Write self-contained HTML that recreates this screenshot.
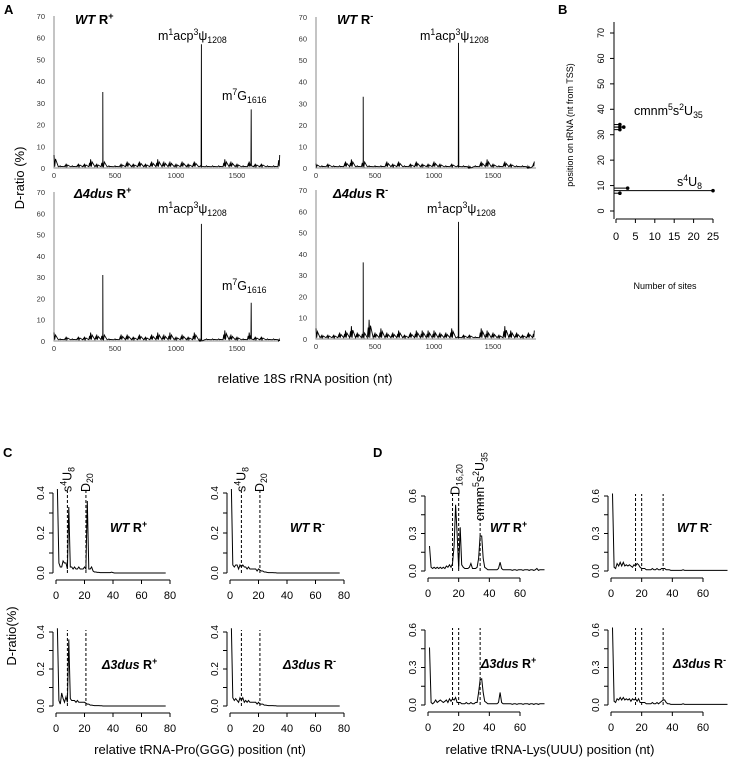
<!DOCTYPE html>
<html><head><meta charset="utf-8"><style>
html,body{margin:0;padding:0;background:#fff}
svg{display:block;font-family:"Liberation Sans",Arial,sans-serif}
</style></head><body>
<svg id="fig" width="736" height="762" viewBox="0 0 736 762" xmlns="http://www.w3.org/2000/svg">
<g id="static" font-family="Liberation Sans, sans-serif">
 <text x="4" y="14" font-size="13" font-weight="bold">A</text>
 <text x="558" y="14" font-size="13" font-weight="bold">B</text>
 <text x="3" y="457" font-size="13" font-weight="bold">C</text>
 <text x="373" y="457" font-size="13" font-weight="bold">D</text>
 <text transform="translate(24,178) rotate(-90)" text-anchor="middle" font-size="13">D-ratio (%)</text>
 <text x="305" y="383" text-anchor="middle" font-size="13">relative 18S rRNA position (nt)</text>
 <text transform="translate(573,125) rotate(-90)" text-anchor="middle" font-size="9">position on tRNA (nt from TSS)</text>
 <text x="665" y="289" text-anchor="middle" font-size="9">Number of sites</text>
 <text transform="translate(16,636) rotate(-90)" text-anchor="middle" font-size="13">D-ratio(%)</text>
 <text x="200" y="754" text-anchor="middle" font-size="13">relative tRNA-Pro(GGG) position (nt)</text>
 <text x="550" y="754" text-anchor="middle" font-size="13">relative tRNA-Lys(UUU) position (nt)</text>
</g>
</svg>
<script>
// ===== Panel A data (18S rRNA, binned every 50 nt, 0..1850) =====
const aBinStep = 50;
const aWTplus   = [6,1,2,1,2,2,4,2,4,1,1,2,3,2,3,2,3,4,3,3,2,3,2,3,1,1,1,1,4,3,2,1,3,2,2,1,1,6];
const aWTminus  = [2,1,2,1,1,3,4,1,4,1,1,1,3,2,3,1,2,3,2,2,3,2,1,2,1,1,0,1,3,4,2,1,3,2,1,1,0,3];
const aDusPlus  = [4,1,2,1,2,2,4,3,4,1,1,3,3,2,3,2,3,4,3,4,2,3,2,4,0,1,1,1,5,3,2,1,4,2,2,1,1,0];
const aDusMinus = [5,2,2,2,3,4,6,3,4,9,3,5,3,3,4,2,3,4,4,4,4,3,3,5,1,2,2,1,5,4,3,2,6,4,3,2,3,4];
const aPeaksWTplus   = [[400,35],[1208,57],[1616,27]];
const aPeaksWTminus  = [[400,33],[1208,58]];
const aPeaksDusPlus  = [[400,31],[1208,55],[1616,18]];
const aPeaksDusMinus = [[400,36],[1208,55]];
const aXTicks = [0,500,1000,1500];
const aYTicks = [0,10,20,30,40,50,60,70];

// ===== Panel B data =====
const bSites = [25,3,1,1,2,1,1];
const bPositions = [8,9,7,33,33,34,32];
const bXTicks = [0,5,10,15,20,25];
const bYTicks = [0,10,20,30,40,50,60,70];

// ===== Panel C data (tRNA-Pro(GGG), positions 1..) =====
const cWTplus   = [0.42,0.05,0.03,0.03,0.06,0.05,0.05,0.02,0.33,0.03,0.03,0.02,0.03,0.02,0.02,0.03,0.02,0.02,0.02,0.03,0.02,0.36,0.02,0.02,0.03,0.01,0.005,0.005,0.003,0.003,0.002,0.002,0.002,0.002,0.002,0.002,0.002,0.002,0.004,0.002,0,0,0,0,0,0,0,0,0,0,0,0,0,0,0,0,0,0,0,0,0,0,0,0,0,0,0,0,0,0,0,0,0,0,0,0,0];
const cWTminus  = [0.42,0.04,0.03,0.04,0.04,0.02,0.04,0.03,0.04,0.03,0.03,0.02,0.03,0.02,0.02,0.02,0.02,0.02,0.01,0.02,0.015,0.01,0.01,0.005,0.005,0.003,0.002,0.002,0.002,0.002,0.001,0.001,0,0,0,0,0,0,0,0,0,0,0,0,0,0,0,0,0,0,0,0,0,0,0,0,0,0,0,0,0,0,0,0,0,0,0,0,0,0,0,0,0,0,0,0,0];
const cDusPlus  = [0.42,0.03,0.01,0.07,0.04,0.02,0.05,0.02,0.36,0.04,0.03,0.03,0.03,0.02,0.03,0.02,0.02,0.02,0.02,0.02,0.015,0.01,0.01,0.005,0.005,0.003,0.002,0.002,0.002,0.002,0.001,0.001,0,0,0,0,0,0,0,0,0,0,0,0,0,0,0,0,0,0,0,0,0,0,0,0,0,0,0,0,0,0,0,0,0,0,0,0,0,0,0,0,0,0,0,0,0];
const cDusMinus = [0.42,0.045,0.03,0.04,0.03,0.02,0.045,0.03,0.045,0.02,0.03,0.02,0.03,0.02,0.02,0.02,0.02,0.02,0.01,0.02,0.01,0.01,0.01,0.005,0.005,0.003,0.002,0.002,0.002,0.002,0.001,0.001,0,0,0,0,0,0,0,0,0,0,0,0,0,0,0,0,0,0,0,0,0,0,0,0,0,0,0,0,0,0,0,0,0,0,0,0,0,0,0,0,0,0,0,0,0];
const cMarks = [8,21];
const cXTicks = [0,20,40,60,80];
const cYTicks = [0,0.1,0.2,0.3,0.4];
const cYLabels = ["0.0","0.2","0.4"];

// ===== Panel D data (tRNA-Lys(UUU), positions 1..) =====
const dWTplus   = [0.2,0.03,0.02,0.03,0.02,0.03,0.02,0.03,0.02,0.03,0.02,0.04,0.03,0.05,0.03,0.06,0.2,0.53,0.3,0.02,0.35,0.05,0.03,0.02,0.02,0.02,0.03,0.06,0.02,0.02,0.02,0.03,0.1,0.28,0.28,0.1,0.03,0.02,0.01,0.01,0.01,0.01,0.01,0.01,0.01,0.02,0.07,0.02,0.01,0.01,0.01,0.01,0.01,0.01,0.005,0.01,0.01,0.005,0.01,0.01,0.01,0.005,0.01,0.01,0.01,0.005,0.01,0.01,0.005,0.01,0.02,0.005,0.01,0.01,0.01,0.01];
const dWTminus  = [0.62,0.03,0.02,0.06,0.04,0.07,0.04,0.07,0.04,0.05,0.04,0.05,0.04,0.03,0.05,0.04,0.06,0.05,0.03,0.02,0.02,0.02,0.01,0.01,0.01,0.01,0.02,0.01,0.01,0.02,0.01,0.01,0.02,0.02,0.02,0.01,0.01,0.01,0.005,0.005,0.005,0.005,0.005,0.005,0.005,0.005,0.01,0.005,0.005,0.005,0.005,0.005,0.005,0.005,0.005,0.005,0.005,0.005,0.005,0.005,0.005,0.005,0.005,0.005,0.005,0.005,0.005,0.005,0.005,0.005,0.005,0.005,0.005,0.005,0.005,0.005];
const dDusPlus  = [0.46,0.02,0.01,0.02,0.04,0.02,0.03,0.04,0.03,0.02,0.03,0.04,0.02,0.05,0.03,0.05,0.04,0.06,0.02,0.02,0.02,0.01,0.01,0.01,0.02,0.01,0.01,0.02,0.01,0.01,0.02,0.02,0.1,0.2,0.21,0.1,0.03,0.02,0.01,0.01,0.01,0.01,0.01,0.01,0.01,0.02,0.1,0.02,0.01,0.01,0.01,0.01,0.01,0.01,0.005,0.01,0.01,0.005,0.01,0.01,0.01,0.005,0.01,0.01,0.01,0.005,0.01,0.01,0.005,0.01,0.01,0.005,0.01,0.01,0.01,0.01];
const dDusMinus = [0.62,0.03,0.02,0.05,0.04,0.06,0.04,0.06,0.04,0.05,0.04,0.05,0.03,0.05,0.04,0.05,0.03,0.05,0.02,0.02,0.02,0.02,0.01,0.01,0.01,0.01,0.02,0.01,0.01,0.02,0.01,0.02,0.03,0.04,0.04,0.02,0.01,0.01,0.005,0.005,0.005,0.005,0.005,0.005,0.005,0.005,0.01,0.005,0.005,0.005,0.005,0.005,0.005,0.005,0.005,0.005,0.005,0.005,0.005,0.005,0.005,0.005,0.005,0.005,0.005,0.005,0.005,0.005,0.005,0.005,0.005,0.005,0.005,0.005,0.005,0.005];
const dMarks = [16,20,34];
const dXTicks = [0,20,40,60];
const dYTicks = [0,0.15,0.3,0.45,0.6];
const dYLabels = ["0.0","0.3","0.6"];

const NS = "http://www.w3.org/2000/svg";
const svg = document.getElementById('fig');
function mk(tag, attrs, parent){
  const e = document.createElementNS(NS, tag);
  for (const k in attrs) e.setAttribute(k, attrs[k]);
  (parent||svg).appendChild(e);
  return e;
}
function lin(d0,d1,r0,r1){ return v => r0 + (v-d0)/(d1-d0)*(r1-r0); }

// ---------- Panel A ----------
function panelA(name, bins, peaks, px0, px1500, pxEnd, py0, py70){
  const g = mk('g', {});
  
  
  const x = lin(0,1500,px0,px1500), y = lin(0,70,py0,py70);
  const ax = mk('path', {d:`M${px0} ${py70}V${py0}H${pxEnd}`, stroke:'#888', fill:'none', 'stroke-width':1}, g);
  
  
  aYTicks.forEach(t=>{
    const tl = mk('text', {x:px0-9, y:y(t)+3, 'font-size':7.5, 'text-anchor':'end', fill:'#333'}, g);
    
    
    tl.textContent = t;
  });
  aXTicks.forEach(t=>{
    const tl = mk('text', {x:x(t), y:py0+10, 'font-size':7.5, 'text-anchor':'middle', fill:'#333'}, g);
    
    
    tl.textContent = t;
  });
  // each bin drawn as a narrow spike cluster around the bin position
  const pts = [];
  bins.forEach((v,i)=>{
    const p = i*aBinStep;
    pts.push([p-15,0.6]); pts.push([p-8,v*0.6]); pts.push([p-4,0.8]); pts.push([p,v]); pts.push([p+6,0.6]); pts.push([p+12,v*0.7]);
  });
  peaks.forEach(p=>{ pts.push([p[0]-2,1]); pts.push([p[0],p[1]]); pts.push([p[0]+2,1]); });
  pts.sort((a,b)=>a[0]-b[0]);
  let d = '';
  pts.filter(p=>p[0]>=0 && p[0]<=(bins.length-1)*aBinStep).forEach((p,i)=>{ d += (i?'L':'M') + x(p[0]).toFixed(1) + ' ' + y(p[1]).toFixed(1); });
  const ln = mk('path', {d, stroke:'#000', fill:'none', 'stroke-width':0.9}, g);
  
  
  return g;
}
panelA('a-wt-rplus', aWTplus, aPeaksWTplus, 54, 237, 279, 168, 16);
panelA('a-wt-rminus', aWTminus, aPeaksWTminus, 316, 493, 536, 168, 17);
panelA('a-4dus-rplus', aDusPlus, aPeaksDusPlus, 54, 237, 279, 341, 192);
panelA('a-4dus-rminus', aDusMinus, aPeaksDusMinus, 316, 493, 536, 339, 190);

function rich(parent, x, y, size, parts, anchor, rot){
  const t = mk('text', {x, y, 'font-size':size, 'text-anchor':anchor||'start'}, parent);
  if (rot) t.setAttribute('transform', `rotate(-90 ${x} ${y})`);
  let off = 0;
  parts.forEach(p=>{
    const s = mk('tspan', {}, t);
    if (p.b) s.setAttribute('font-weight','bold');
    if (p.i) s.setAttribute('font-style','italic');
    let target = 0;
    if (p.sup){ target = -size*0.4; s.setAttribute('font-size', size*0.7); }
    if (p.sub){ target = size*0.25; s.setAttribute('font-size', size*0.7); }
    if (target !== off){ s.setAttribute('dy', (target-off).toFixed(2)); off = target; }
    s.textContent = p.t;
  });
  return t;
}
const labs = mk('g', {});


const acp = [{t:'m'},{t:'1',sup:1},{t:'acp'},{t:'3',sup:1},{t:'ψ'},{t:'1208',sub:1}];
const m7g = [{t:'m'},{t:'7',sup:1},{t:'G'},{t:'1616',sub:1}];
rich(labs, 75, 24, 13, [{t:'WT',b:1,i:1},{t:' R',b:1},{t:'+',b:1,sup:1}]);
rich(labs, 337, 24, 13, [{t:'WT',b:1,i:1},{t:' R',b:1},{t:'-',b:1,sup:1}]);
rich(labs, 74, 198, 13, [{t:'Δ4dus',b:1,i:1},{t:' R',b:1},{t:'+',b:1,sup:1}]);
rich(labs, 333, 198, 13, [{t:'Δ4dus',b:1,i:1},{t:' R',b:1},{t:'-',b:1,sup:1}]);
rich(labs, 158, 40, 12.5, acp);
rich(labs, 420, 40, 12.5, acp);
rich(labs, 158, 213, 12.5, acp);
rich(labs, 427, 213, 12.5, acp);
rich(labs, 222, 100, 12.5, m7g);
rich(labs, 222, 290, 12.5, m7g);

// ---------- Panel B ----------
(function(){
  const g = mk('g', {});
  
  
  const x = lin(0,25,616,713), y = lin(0,70,211,33);
  const ax = mk('path', {d:`M614 22V219`, stroke:'#000', 'stroke-width':1}, g);
  
  
  const xa = mk('path', {d:`M${x(0)} 219H${x(25)}`, stroke:'#000', 'stroke-width':1}, g);
  
  
  bXTicks.forEach(t=>{
    const tk = mk('path', {d:`M${x(t)} 219v4`, stroke:'#000'}, g);
    
    
    const tl = mk('text', {x:x(t), y:240, 'font-size':11, 'text-anchor':'middle'}, g);
    
    
    tl.textContent = t;
  });
  bYTicks.forEach(t=>{
    const tk = mk('path', {d:`M614 ${y(t)}h-4`, stroke:'#000'}, g);
    
    
    const tl = mk('text', {x:604, y:y(t), 'font-size':9, 'text-anchor':'middle', transform:`rotate(-90 604 ${y(t)})`}, g);
    
    
    tl.textContent = t;
  });
  bSites.forEach((s,i)=>{
    const l = mk('path', {d:`M614 ${y(bPositions[i])}H${x(s)}`, stroke:'#000', 'stroke-width':1}, g);
    
    
    const c = mk('circle', {cx:x(s), cy:y(bPositions[i]), r:1.8, fill:'#000'}, g);
    
    
  });
  rich(g, 634, 115, 12.5, [{t:'cmnm'},{t:'5',sup:1},{t:'s'},{t:'2',sup:1},{t:'U'},{t:'35',sub:1}]);
  rich(g, 677, 186, 12.5, [{t:'s'},{t:'4',sup:1},{t:'U'},{t:'8',sub:1}]);
})();

// ---------- Panels C & D ----------
function tracePanel(name, vals, marks, xTicks, xMaxTick, yTicks, yLabels, yMax, px0, pxPer, py0, pyTop, title){
  const g = mk('g', {});
  
  
  const x = v => px0 + v*pxPer, y = lin(0,yMax,py0,pyTop);
  const axY = px0 - 3, axX = py0 + 7;
  const ya = mk('path', {d:`M${axY} ${y(0)}V${y(yMax)}`, stroke:'#000'}, g);
  
  
  yTicks.forEach(t=>{
    const tk = mk('path', {d:`M${axY} ${y(t)}h-4`, stroke:'#000'}, g);
    
    
  });
  yLabels.forEach(l=>{
    const yy = y(parseFloat(l));
    const tl = mk('text', {x:axY-9, y:yy, 'font-size':10, 'text-anchor':'middle', transform:`rotate(-90 ${axY-9} ${yy})`}, g);
    
    
    tl.textContent = l;
  });
  const xa = mk('path', {d:`M${x(0)} ${axX}H${x(xMaxTick)}`, stroke:'#000'}, g);
  
  
  xTicks.forEach(t=>{
    const tk = mk('path', {d:`M${x(t)} ${axX}v4`, stroke:'#000'}, g);
    
    
    const tl = mk('text', {x:x(t), y:axX+19, 'font-size':11, 'text-anchor':'middle'}, g);
    
    
    tl.textContent = t;
  });
  marks.forEach(m=>{
    const dl = mk('path', {d:`M${x(m)} ${y(0)}V${y(yMax)-2}`, stroke:'#000', 'stroke-dasharray':'3,2', 'stroke-width':1}, g);
    
    
  });
  let d = '';
  vals.forEach((v,i)=>{ d += (i?'L':'M') + x(i+1).toFixed(1) + ' ' + y(v).toFixed(1); });
  const ln = mk('path', {d, stroke:'#000', fill:'none', 'stroke-width':1}, g);
  
  
  rich(g, title[0], title[1], 12.5, title[2]);
  return {g, x};
}
const tWTp = [{t:'WT',b:1,i:1},{t:' R',b:1},{t:'+',b:1,sup:1}];
const tWTm = [{t:'WT',b:1,i:1},{t:' R',b:1},{t:'-',b:1,sup:1}];
const tDp = [{t:'Δ3dus',b:1,i:1},{t:' R',b:1},{t:'+',b:1,sup:1}];
const tDm = [{t:'Δ3dus',b:1,i:1},{t:' R',b:1},{t:'-',b:1,sup:1}];
const cPer = 114/80, dPer = 92/60;
const c1 = tracePanel('c-wt-rplus', cWTplus, cMarks, cXTicks, 80, cYTicks, cYLabels, 0.4, 56, cPer, 573, 493, [110,532,tWTp]);
const c2 = tracePanel('c-wt-rminus', cWTminus, cMarks, cXTicks, 80, cYTicks, cYLabels, 0.4, 230, cPer, 573, 493, [290,532,tWTm]);
tracePanel('c-3dus-rplus', cDusPlus, cMarks, cXTicks, 80, cYTicks, cYLabels, 0.4, 56, cPer, 706, 632, [102,669,tDp]);
tracePanel('c-3dus-rminus', cDusMinus, cMarks, cXTicks, 80, cYTicks, cYLabels, 0.4, 230, cPer, 706, 632, [283,669,tDm]);
const d1 = tracePanel('d-wt-rplus', dWTplus, dMarks, dXTicks, 60, dYTicks, dYLabels, 0.6, 428, dPer, 571, 496, [490,532,tWTp]);
tracePanel('d-wt-rminus', dWTminus, dMarks, dXTicks, 60, dYTicks, dYLabels, 0.6, 611, dPer, 571, 496, [677,532,tWTm]);
tracePanel('d-3dus-rplus', dDusPlus, dMarks, dXTicks, 60, dYTicks, dYLabels, 0.6, 428, dPer, 705, 630, [481,668,tDp]);
tracePanel('d-3dus-rminus', dDusMinus, dMarks, dXTicks, 60, dYTicks, dYLabels, 0.6, 611, dPer, 705, 630, [673,668,tDm]);

// rotated marker labels
rich(labs, c1.x(cMarks[0])+4, 492, 12.5, [{t:'s'},{t:'4',sup:1},{t:'U'},{t:'8',sub:1}], 'start', 1);
rich(labs, c1.x(cMarks[1])+4, 492, 12.5, [{t:'D'},{t:'20',sub:1}], 'start', 1);
rich(labs, c2.x(cMarks[0])+4, 492, 12.5, [{t:'s'},{t:'4',sup:1},{t:'U'},{t:'8',sub:1}], 'start', 1);
rich(labs, c2.x(cMarks[1])+4, 492, 12.5, [{t:'D'},{t:'20',sub:1}], 'start', 1);
rich(labs, d1.x(18)+4, 495, 12.5, [{t:'D'},{t:'16,20',sub:1}], 'start', 1);
rich(labs, d1.x(dMarks[2])+4, 521, 12.5, [{t:'cmnm'},{t:'5',sup:1},{t:'s'},{t:'2',sup:1},{t:'U'},{t:'35',sub:1}], 'start', 1);
</script>
</body></html>
